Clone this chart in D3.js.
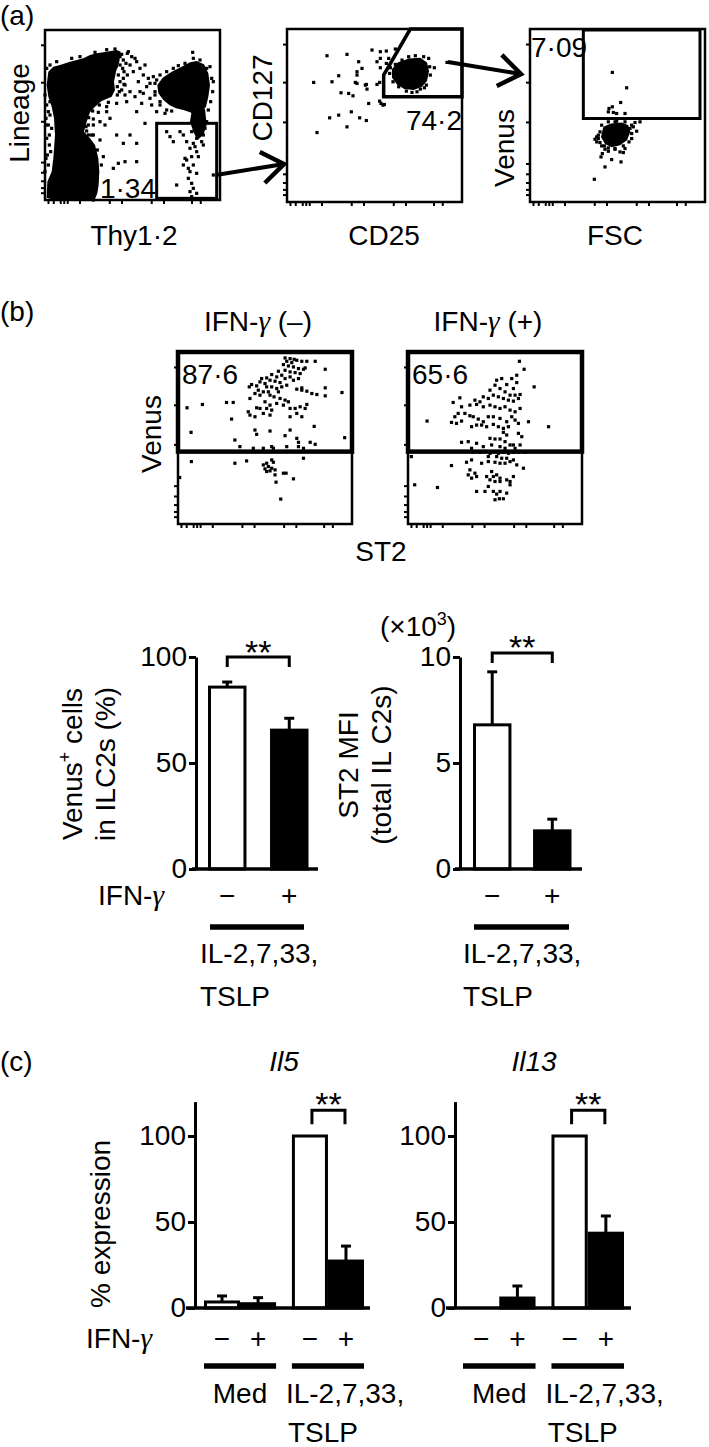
<!DOCTYPE html>
<html><head><meta charset="utf-8">
<script src="https://cdn.jsdelivr.net/npm/d3@7"></script>
<style>
body{margin:0;background:#fff}
svg text{font-family:"Liberation Sans",Arial,Helvetica,sans-serif;fill:#000}
</style>
</head><body>
<svg id="c" width="709" height="1447"></svg>
<script>
// ================= DATA =================
// Flow plots: readings in arbitrary channel units (frame of each plot)
const flowTicksX = [2,5,9,11,13,20,37,44,61,68,84,89];
const flowTicksY = [4,7,11,16,22,46,69,91];

// (a) Lineage vs Thy1.2
const a1Frame = {x:[15,540], y:[15,525]};
const a1Blobs = [
 [[25,140],[40,125],[60,120],[90,110],[110,105],[130,100],[150,90],[170,85],[200,80],[230,75],[242,80],[238,110],[228,140],[222,170],[225,195],[215,215],[185,228],[165,245],[150,262],[140,290],[132,320],[150,340],[165,360],[175,400],[178,440],[176,480],[172,505],[165,522],[120,524],[40,524],[20,518],[22,470],[35,440],[40,400],[45,330],[42,280],[35,245],[25,215],[20,180]],
 [[352,180],[368,158],[395,140],[425,125],[450,112],[470,108],[492,118],[505,145],[510,180],[505,215],[498,245],[485,262],[468,270],[450,262],[430,255],[408,250],[388,240],[370,225],[355,205]],
 [[455,258],[495,252],[500,300],[490,330],[472,345],[460,320],[450,290]]
];
const a1Dots = [[265,80],[275,95],[290,110],[270,120],[300,130],[280,140],[310,150],[325,160],[295,170],[340,155],[320,185],[300,200],[345,200],[330,220],[285,215],[305,235],[260,230],[270,200],[315,120],[350,260],[375,265],[360,240],[290,260],[230,330],[250,355],[290,355],[315,295],[270,330],[200,260],[210,280],[180,290],[195,300],[235,415],[290,410],[255,410],[220,430],[160,300],[155,330],[262,85],[285,100],[240,95],[330,175],[310,205],[335,240],
 [232,92],[245,88],[250,105],[240,120],[248,130],[235,150],[250,160],[240,170],[232,185],[245,195],[252,140],[238,200],[228,125],[255,180],[232,210],[205,232],[178,240],[158,258],[146,278],[138,305],[145,330],[172,375],[184,420],
 [20,130],[30,120],[50,110],[95,100],[120,95],[165,82],[200,74],[225,72],[258,115],[262,150],[252,178],[255,210],[230,235],[200,245],[175,262],[160,282],[145,300],[140,318],[160,330],[180,345],[190,395],[20,240],[18,280],[25,300],[20,340],[28,360],[18,400],[25,420],[15,440],[30,230],[15,210],[160,525],[30,270],[35,310],[28,330],[32,380],[22,390],[18,300],[25,260],
 [345,175],[350,165],[360,150],[380,140],[400,130],[460,100],[480,105],[510,125],[515,160],[518,200],[512,230],[505,255],[380,255],[395,258],[360,230],[345,210],[520,170],[458,82],[415,122],[435,115],[500,130],
 [470,280],[480,300],[465,310],[455,320],[490,330],[470,340],[460,355],[485,350],[450,370],[470,380],[455,395],[440,405],[460,420],[450,440],[470,445],[445,460],[455,475],[460,490],[450,500],[470,505],[455,515],[435,400],[430,420],[420,320],[430,330],[400,350],[410,480],[490,360],[495,310],[500,290],[520,450],[440,350],[465,365],[475,395],[445,430],[380,320],[390,335]];
const a1Gate = [350,295,530,520];
const a1Pct = "1·34";

// (a) CD127 vs CD25
const a2Frame = {x:[20,545], y:[12,530]};
const a2Blobs = [[[335,132],[352,112],[385,100],[420,98],[440,112],[446,138],[440,168],[425,185],[400,195],[372,192],[350,178],[335,158]]];
const a2Dots = [[140,92],[200,88],[235,110],[245,130],[230,140],[230,150],[275,75],[300,80],[318,78],[345,72],[325,100],[300,100],[290,110],[318,115],[100,172],[155,170],[175,152],[225,172],[230,175],[258,178],[260,192],[290,178],[298,172],[182,203],[205,205],[218,212],[265,235],[298,228],[302,235],[308,240],[312,238],[148,278],[175,270],[213,260],[238,278],[258,286],[200,305],[110,322],[255,180],[300,128],[500,112],[462,128],
 [330,128],[328,145],[338,170],[355,185],[378,198],[395,202],[420,192],[438,180],[450,150],[448,125],[445,100],[430,95],[405,92],[385,95],[365,105],[345,118],[432,188],[410,200]];
const a2Gate = [[390,12],[310,150],[310,215],[545,215],[545,12]];
const a2Pct = "74·2";

// (a) Venus vs FSC
const a3Frame = {x:[15,540], y:[12,530]};
const a3Blobs = [[[235,305],[258,295],[290,292],[310,300],[316,320],[306,345],[285,360],[260,366],[240,356],[228,335]]];
const a3Dots = [[262,142],[305,188],[287,232],[262,245],[252,250],[265,262],[275,265],[250,260],[300,265],[330,292],[345,290],[320,300],[335,318],[210,342],[220,340],[225,352],[240,372],[250,378],[270,372],[285,380],[295,382],[232,385],[228,395],[260,403],[288,410],[240,425],[208,462],[325,305],[320,340],[300,370],[215,350],[230,362],[280,300],[270,290],
 [225,320],[220,330],[230,300],[250,290],[275,288],[300,290],[315,310],[320,325],[312,350],[295,362],[270,370],[250,368],[238,362],[215,335]];
const a3Gate = [175,15,525,280];
const a3Pct = "7·09";

// (b) Venus vs ST2
const bFrame = {x:[25,545], y:[20,538]};
const bGateY = 320;
const bTitles = ["IFN-γ (–)", "IFN-γ (+)"];
const bPct = ["87·6", "65·6"];
const b1Dots = [[345,38],[360,40],[372,42],[350,48],[365,52],[380,45],[395,48],[410,48],[435,48],[340,58],[355,62],[370,65],[385,70],[400,72],[345,75],[360,80],[375,82],[390,85],[405,68],[325,78],[335,90],[320,95],[305,88],[290,98],[275,100],[300,105],[315,108],[330,112],[345,100],[360,95],[370,105],[385,100],[270,110],[285,115],[260,122],[245,118],[238,125],[290,125],[305,125],[320,130],[335,125],[350,120],[265,135],[280,140],[295,140],[255,145],[270,150],[300,150],[325,140],[395,135],[410,138],[425,145],[440,148],[465,128],[465,152],[515,142],[465,72],[395,128],[380,132],[312,155],[330,160],[345,165],[355,170],[240,160],[285,170],[300,180],[320,175],[340,180],[290,190],[270,190],[260,188],[305,195],[280,205],[300,210],[235,200],[240,210],[255,215],[360,190],[375,190],[390,185],[410,178],[405,190],[380,205],[395,215],[360,215],[170,172],[190,172],[98,178],[52,188],[185,222],[64,262],[255,255],[260,268],[300,258],[345,272],[360,255],[380,280],[385,292],[420,292],[435,298],[432,244],[523,278],[195,285],[210,305],[250,310],[280,310],[305,305],[310,310],[350,305],[385,305],[400,310],
 [65,350],[195,355],[230,348],[280,360],[290,355],[305,345],[310,352],[295,365],[285,372],[300,378],[290,380],[305,370],[315,375],[315,390],[340,385],[348,385],[370,402],[318,412],[332,463],[400,340],[30,398]];
const b2Dots = [[358,48],[372,72],[402,125],[445,245],[82,228],[350,90],[335,100],[350,112],[305,100],[290,105],[320,118],[340,130],[285,120],[300,130],[315,140],[330,150],[345,150],[360,148],[270,135],[280,150],[295,155],[310,160],[325,165],[340,168],[355,160],[250,155],[265,160],[180,158],[160,172],[185,185],[210,180],[225,165],[240,170],[230,178],[250,185],[270,180],[285,185],[300,190],[315,185],[330,195],[345,200],[360,190],[195,205],[210,212],[175,205],[165,215],[155,232],[170,235],[185,228],[220,215],[235,222],[250,230],[265,215],[280,215],[300,220],[320,230],[335,215],[345,225],[230,240],[245,240],[260,245],[280,238],[295,245],[310,250],[325,245],[355,235],[385,230],[215,245],[310,262],[320,270],[355,265],[365,275],[270,280],[285,282],[300,282],[315,290],[330,300],[340,300],[360,300],[185,292],[205,290],[230,295],[250,305],[275,300],[300,305],[315,310],[345,310],[215,310],[220,322],[240,322],[255,320],[270,325],[280,320],[295,325],[310,322],[325,325],[340,322],[355,322],[375,322],[265,335],[290,335],[305,340],[320,340],[340,345],[200,352],[215,345],[245,355],[265,350],[285,352],[300,355],[315,355],[330,350],[350,360],[370,370],[155,362],[210,375],[225,385],[205,390],[215,400],[230,395],[260,395],[275,380],[280,395],[290,390],[300,400],[270,405],[285,410],[300,410],[320,405],[330,410],[330,420],[340,395],[255,440],[280,440],[290,448],[300,440],[320,445],[285,465],[298,462],[310,462],[45,420],[113,428],[35,335],[265,425],[230,440]];

// (b) bar charts
const ifnLevels = ["−", "+"];
const venusPct = [85.8, 65.5];
const venusSD = [2.4, 5.6];
const st2MFI = [6.8, 1.8];      // ×10^3
const st2SD = [2.5, 0.55];
const venusTicks = [0, 50, 100];
const st2Ticks = [0, 5, 10];

// (c) bar charts
const stimGroups = ["Med", "IL-2,7,33, TSLP"];
const il5Med = [3.5, 2.5], il5MedSD = [3.5, 3.5];
const il5Stim = [100, 27.3], il5StimSD = [0, 8.7];
const il13Med = [0, 5.8], il13MedSD = [0, 7.0];
const il13Stim = [100, 43.5], il13StimSD = [0, 10];
const exprTicks = [0, 50, 100];

// ================= DRAW =================
const svg = d3.select("#c");
const FS = 28;

function fillText(t, s) {
  const parts = s.split("γ");
  parts.forEach((p, i) => {
    if (i > 0) t.append("tspan").attr("font-family", "Liberation Serif, DejaVu Serif, serif")
      .attr("font-style", "italic").attr("font-size", "1.05em").text("γ");
    if (p) t.append("tspan").text(p);
  });
}
function text(x, y, s, o = {}) {
  const t = svg.append("text").attr("x", x).attr("y", y).attr("font-size", o.size || FS)
    .attr("text-anchor", o.anchor || "start");
  fillText(t, s);
  if (o.italic) t.attr("font-style", "italic");
  return t;
}
function vtext(x, y, s, o = {}) {
  const t = svg.append("text").attr("transform", `translate(${x},${y}) rotate(-90)`)
    .attr("text-anchor", "middle").attr("font-size", o.size || FS);
  fillText(t, s);
  return t;
}

function flowPlot(box, frame, opts) {
  const x = d3.scaleLinear().domain(frame.x).range([box[0], box[2]]);
  const y = d3.scaleLinear().domain(frame.y).range([box[1], box[3]]);
  const tx = d3.scaleLinear().domain([0, 100]).range([box[0], box[2]]);
  const ty = d3.scaleLinear().domain([0, 100]).range([box[3], box[1]]);
  const g = svg.append("g");
  g.selectAll(".tx").data(flowTicksX).join("line")
    .attr("x1", d => tx(d)).attr("x2", d => tx(d)).attr("y1", box[3]).attr("y2", box[3] + 4)
    .attr("stroke", "#000").attr("stroke-width", 2);
  g.selectAll(".ty").data(flowTicksY).join("line")
    .attr("y1", d => ty(d)).attr("y2", d => ty(d)).attr("x1", box[0]).attr("x2", box[0] - 4)
    .attr("stroke", "#000").attr("stroke-width", 2);
  (opts.blobs || []).forEach(poly => {
    g.append("path").attr("d", d3.line().x(d => x(d[0])).y(d => y(d[1])).curve(d3.curveLinearClosed)(poly))
      .attr("fill", "#000");
  });
  g.selectAll(".dot").data(opts.dots).join("rect")
    .attr("x", d => x(d[0]) - 1.6).attr("y", d => y(d[1]) - 1.6)
    .attr("width", 3.2).attr("height", 3.2).attr("fill", "#000");
  g.append("rect").attr("x", box[0]).attr("y", box[1]).attr("width", box[2] - box[0]).attr("height", box[3] - box[1])
    .attr("fill", "none").attr("stroke", "#000").attr("stroke-width", opts.boxW || 2.5);
  return {x, y, g};
}

// ---- Panel (a)
text(0, 25, "(a)");
{
  const p = flowPlot([45, 30, 220, 200], a1Frame, {blobs: a1Blobs, dots: a1Dots});
  p.g.append("rect").attr("x", p.x(a1Gate[0])).attr("y", p.y(a1Gate[1]))
    .attr("width", p.x(a1Gate[2]) - p.x(a1Gate[0])).attr("height", p.y(a1Gate[3]) - p.y(a1Gate[1]))
    .attr("fill", "none").attr("stroke", "#000").attr("stroke-width", 3);
  text(156, 198, a1Pct, {anchor: "end"});
  vtext(29, 113, "Lineage");
  text(134, 245, "Thy1·2", {anchor: "middle"});
}
{
  const p = flowPlot([287, 29, 462, 202], a2Frame, {blobs: a2Blobs, dots: a2Dots});
  p.g.append("path").attr("d", d3.line().x(d => p.x(d[0])).y(d => p.y(d[1])).curve(d3.curveLinearClosed)(a2Gate))
    .attr("fill", "none").attr("stroke", "#000").attr("stroke-width", 3.5).attr("stroke-linejoin", "miter");
  text(462, 130, a2Pct, {anchor: "end"});
  vtext(272, 98, "CD127");
  text(384, 245, "CD25", {anchor: "middle"});
}
{
  const p = flowPlot([530, 29, 705, 202], a3Frame, {blobs: a3Blobs, dots: a3Dots});
  p.g.append("rect").attr("x", p.x(a3Gate[0])).attr("y", p.y(a3Gate[1]))
    .attr("width", p.x(a3Gate[2]) - p.x(a3Gate[0])).attr("height", p.y(a3Gate[3]) - p.y(a3Gate[1]))
    .attr("fill", "none").attr("stroke", "#000").attr("stroke-width", 3);
  text(531, 57, a3Pct);
  vtext(514, 148, "Venus");
  text(615, 245, "FSC", {anchor: "middle"});
}
function arrow(x1, y1, x2, y2) {
  const a = Math.atan2(y2 - y1, x2 - x1), L = 27, h = 0.62;
  svg.append("line").attr("x1", x1).attr("y1", y1).attr("x2", x2 - 3 * Math.cos(a)).attr("y2", y2 - 3 * Math.sin(a))
    .attr("stroke", "#000").attr("stroke-width", 4);
  const p1 = [x2 - L * Math.cos(a - h), y2 - L * Math.sin(a - h)];
  const p2 = [x2 - L * Math.cos(a + h), y2 - L * Math.sin(a + h)];
  svg.append("path").attr("d", `M${p1}L${x2},${y2}L${p2}`).attr("fill", "none")
    .attr("stroke", "#000").attr("stroke-width", 4.5).attr("stroke-linejoin", "miter");
}
arrow(216, 175, 284, 164);
arrow(448, 62, 521, 74);

// ---- Panel (b) flow
text(0, 321, "(b)");
[[178, b1Dots], [408, b2Dots]].forEach(([x0, dots], i) => {
  const p = flowPlot([x0, 352, x0 + 174, 524], bFrame, {dots: dots});
  p.g.append("rect").attr("x", x0).attr("y", p.y(bFrame.y[0]))
    .attr("width", 174).attr("height", p.y(bGateY) - p.y(bFrame.y[0]))
    .attr("fill", "none").attr("stroke", "#000").attr("stroke-width", 4.5);
  text(x0 + 4, 384, bPct[i]);
  text(x0 + 80, 331, bTitles[i], {anchor: "middle"});
});
vtext(161, 434, "Venus");
text(381, 561, "ST2", {anchor: "middle"});

// ---- bar chart helpers
function yAxis(x, yScale, ticks) {
  const g = svg.append("g").attr("transform", `translate(${x},0)`)
    .call(d3.axisLeft(yScale).tickValues(ticks).tickSize(7).tickSizeOuter(0).tickPadding(2));
  g.attr("font-size", FS).attr("font-family", "Liberation Sans, Arial, sans-serif");
  g.select(".domain").attr("stroke", "#000").attr("stroke-width", 3);
  g.selectAll(".tick line").attr("stroke", "#000").attr("stroke-width", 3);
  g.selectAll(".tick text").attr("fill", "#000");
}
function drawBars(xPos, bw, yScale, values, errs) {
  const rows = ifnLevels.map((lv, i) => ({lv, v: values[i], e: errs[i], x: xPos(lv)}));
  const g = svg.append("g");
  g.selectAll("rect").data(rows.filter(r => r.v > 0)).join("rect")
    .attr("x", r => r.x + 1.5).attr("width", bw - 3)
    .attr("y", r => yScale(r.v)).attr("height", r => yScale(0) - yScale(r.v))
    .attr("fill", r => r.lv === "+" ? "#000" : "#fff").attr("stroke", "#000").attr("stroke-width", 3);
  rows.filter(r => r.e > 0).forEach(r => {
    const cx = r.x + bw / 2;
    g.append("line").attr("x1", cx).attr("x2", cx).attr("y1", yScale(r.v)).attr("y2", yScale(r.v + r.e))
      .attr("stroke", "#000").attr("stroke-width", 3);
    g.append("line").attr("x1", cx - 5).attr("x2", cx + 5).attr("y1", yScale(r.v + r.e)).attr("y2", yScale(r.v + r.e))
      .attr("stroke", "#000").attr("stroke-width", 3);
  });
  return rows.map(r => r.x + bw / 2);
}
function baseline(x1, x2, y) {
  svg.append("line").attr("x1", x1).attr("x2", x2).attr("y1", y).attr("y2", y)
    .attr("stroke", "#000").attr("stroke-width", 3.5);
}
function bracket(xa, xb, yTop, leg, starY) {
  svg.append("path").attr("d", `M${xa},${yTop + leg}V${yTop}H${xb}V${yTop + leg}`)
    .attr("fill", "none").attr("stroke", "#000").attr("stroke-width", 3);
  text((xa + xb) / 2, starY, "**", {anchor: "middle", size: 34});
}
function thickBar(x1, x2, y) {
  svg.append("line").attr("x1", x1).attr("x2", x2).attr("y1", y).attr("y2", y)
    .attr("stroke", "#000").attr("stroke-width", 5.5);
}
function ifnRow(centers, y) {
  centers.forEach((c, i) => text(c, y, ifnLevels[i % 2], {anchor: "middle"}));
}

// ---- Panel (b) bars
{
  const y = d3.scaleLinear().domain([0, 100]).range([869, 657]);
  const x = d3.scaleBand().domain(ifnLevels).range([208, 308.5]).paddingInner(0.38);
  const c = drawBars(x, x.bandwidth(), y, venusPct, venusSD);
  yAxis(196, y, venusTicks);
  baseline(192, 318, y(0));
  bracket(c[0], c[1], y(100), 10, 664);
  ifnRow(c, 905);
  thickBar(210, 304, 927);
  text(98, 905, "IFN-γ");
  text(200, 963, "IL-2,7,33,");
  text(200, 1006, "TSLP");
  const t = svg.append("text").attr("transform", "translate(82,764) rotate(-90)")
    .attr("text-anchor", "middle").attr("font-size", FS).text("Venus");
  t.append("tspan").attr("font-size", 18).attr("dy", -11).text("+");
  t.append("tspan").attr("dy", 11).text(" cells");
  vtext(115, 764, "in ILC2s (%)");
}
{
  const y = d3.scaleLinear().domain([0, 10]).range([869, 657]);
  const x = d3.scaleBand().domain(ifnLevels).range([473, 571.5]).paddingInner(0.36);
  const c = drawBars(x, x.bandwidth(), y, st2MFI, st2SD);
  yAxis(460, y, st2Ticks);
  baseline(455, 582, y(0));
  bracket(c[0], c[1], y(10) - 4, 10, 659);
  ifnRow(c, 905);
  thickBar(474, 569, 927);
  text(463, 963, "IL-2,7,33,");
  text(463, 1006, "TSLP");
  vtext(358, 765, "ST2 MFI");
  vtext(391, 765, "(total IL C2s)");
  const t = svg.append("text").attr("x", 380).attr("y", 636).attr("font-size", FS).text("(×10");
  t.append("tspan").attr("font-size", 18).attr("dy", -11).text("3");
  t.append("tspan").attr("dy", 11).text(")");
}

// ---- Panel (c)
text(0, 1071, "(c)");
function exprChart(axisX, r0, r1, med, medSD, stim, stimSD, title, titleX, baseEnd) {
  const y = d3.scaleLinear().domain([0, 120]).range([1308, 1101.6]);
  const outer = d3.scaleBand().domain(stimGroups).range([r0, r1]).paddingInner(0.18);
  const inner = d3.scaleBand().domain(ifnLevels).range([0, outer.bandwidth()]);
  const bw = inner.bandwidth();
  const c1 = drawBars(lv => outer(stimGroups[0]) + inner(lv), bw, y, med, medSD);
  const c2 = drawBars(lv => outer(stimGroups[1]) + inner(lv), bw, y, stim, stimSD);
  yAxis(axisX, y, exprTicks);
  baseline(axisX - 9, baseEnd, y(0));
  bracket(c2[0] + 2, c2[1] - 1, y(115), 14, 1116);
  ifnRow(c1.concat(c2), 1348);
  const g0 = outer(stimGroups[0]), g1 = outer(stimGroups[1]), ob = outer.bandwidth();
  thickBar(g0, g0 + ob, 1366);
  thickBar(g1, g1 + ob, 1366);
  text(g0 + ob / 2, 1403, "Med", {anchor: "middle"});
  text(g1 - 6, 1403, "IL-2,7,33,");
  text(g1 + ob / 2 - 5, 1442, "TSLP", {anchor: "middle"});
  text(titleX, 1071, title, {anchor: "middle", italic: true});
}
exprChart(195, 204, 364, il5Med, il5MedSD, il5Stim, il5StimSD, "Il5", 284, 370);
exprChart(455, 463, 624, il13Med, il13MedSD, il13Stim, il13StimSD, "Il13", 534, 631);
text(86, 1348, "IFN-γ");
vtext(110, 1224, "% expression");
</script>
</body></html>
